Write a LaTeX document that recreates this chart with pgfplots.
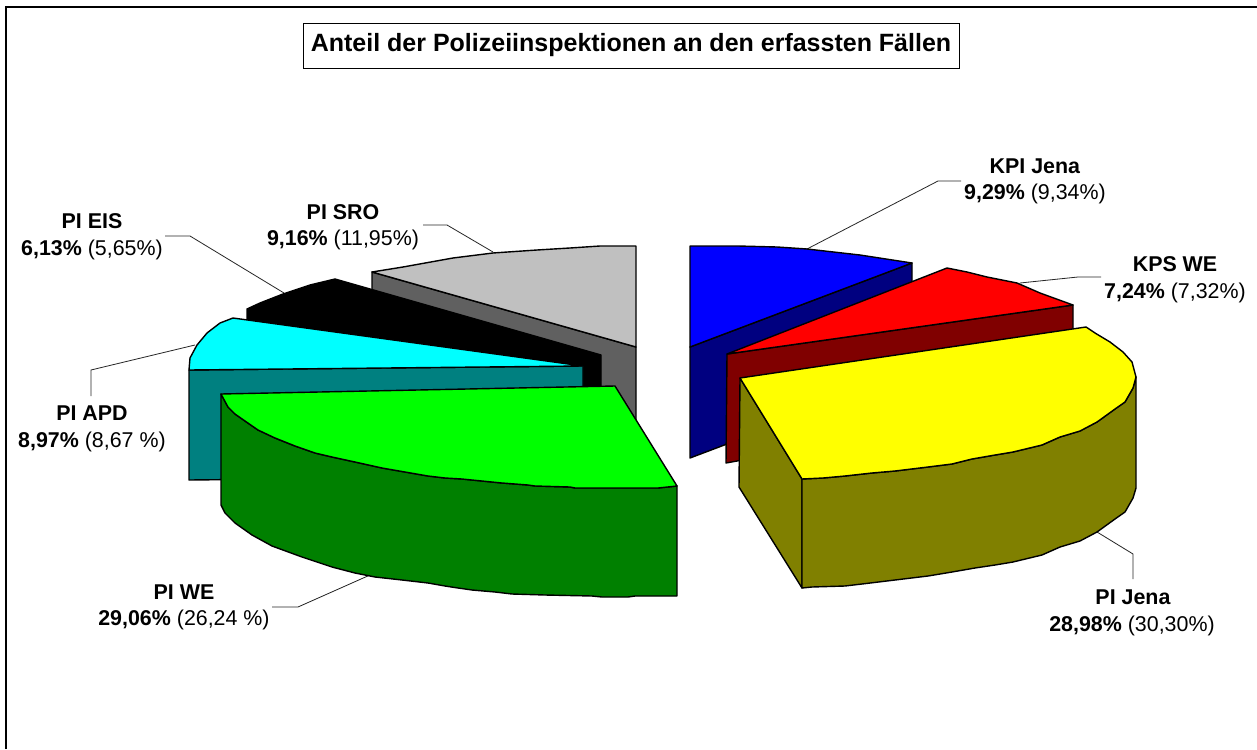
\documentclass[border=0pt]{standalone}
\usepackage{pgfplots}
\pgfplotsset{compat=1.18}
\usepackage{fontspec}
\setmainfont{Liberation Sans}
\definecolor{cSil}{HTML}{C0C0C0}\definecolor{cSilD}{HTML}{606060}
\definecolor{cTeal}{HTML}{008080}\definecolor{cCy}{HTML}{00FFFF}
\definecolor{cGr}{HTML}{00FF00}\definecolor{cGrD}{HTML}{008000}
\definecolor{cBl}{HTML}{0000FF}\definecolor{cBlD}{HTML}{000080}
\definecolor{cRe}{HTML}{FF0000}\definecolor{cReD}{HTML}{800000}
\definecolor{cYe}{HTML}{FFFF00}\definecolor{cOl}{HTML}{808000}
\tikzset{
  pie/.style={draw=black, line width=1.4pt, line join=round},
  lead/.style={draw=black!85, line width=0.8pt},
  lab/.style={inner sep=0pt, anchor=center, font=\fontsize{21.4}{24}\selectfont},
}
\begin{document}
\begin{tikzpicture}
\begin{axis}[
  scale only axis, width=1257pt, height=749pt,
  xmin=0, xmax=1257, ymin=0, ymax=749, y dir=reverse,
  axis lines=none, clip=true,
]
% page
\addplot[fill=white, draw=none] coordinates {(0,0) (1257,0) (1257,749) (0,749)} -- cycle;
% frame
\addplot[draw=black, line width=1.3pt] coordinates {(6,749) (6,7) (1257,7)};
% leader lines
\addplot[lead] coordinates {(807,249) (938,181) (961,181)};
\addplot[lead] coordinates {(1020,283) (1078,277) (1101,277)};
\addplot[lead] coordinates {(1097,532) (1133,554) (1133,579)};
\addplot[lead] coordinates {(370,575) (298,607) (272,607)};
\addplot[lead] coordinates {(195,345) (91,370) (91,396)};
\addplot[lead] coordinates {(284,293) (190,236) (165,236)};
\addplot[lead] coordinates {(493,252) (447,225) (423,225)};
% silver
\addplot[pie, fill=cSilD] coordinates {(372,272) (636,347) (636,457) (372,382)} -- cycle;
\addplot[pie, fill=cSil] coordinates {(636,246) (600,246) (570,248) (537,250) (493,253) (453,258) (403,267) (372,272) (636,347)} -- cycle;
% black
\addplot[pie, fill=black] coordinates {(335,279) (310,285) (283,294) (260,303) (247,309) (247,400) (601,400) (601,355)} -- cycle;
% teal + cyan
\addplot[pie, fill=cTeal] coordinates {(189,370) (583,366) (583,476) (189,480)} -- cycle;
\addplot[pie, fill=cCy] coordinates {(233,318) (220,323) (207,333) (197,345) (190,358) (189,370) (583,366)} -- cycle;
% green
\addplot[pie, fill=cGrD] coordinates {(677,486) (658,488) (575,488) (570,487) (535,486) (528,485) (502,483) (482,481) (462,479) (445,478) (428,476) (405,472) (382,468) (355,462) (332,457) (315,453) (295,446) (275,438) (258,430) (245,421) (235,414) (228,407) (221,394) (221,505) (225,513) (235,523) (252,535) (272,546) (302,557) (332,567) (355,573) (375,577) (402,580) (428,583) (445,586) (458,588) (472,590) (495,592) (512,594) (545,595) (592,596) (602,597) (628,597) (635,596) (677,596)} -- cycle;
\addplot[pie, fill=cGr] coordinates {(221,394) (615,386) (677,486) (658,488) (575,488) (570,487) (535,486) (528,485) (502,483) (482,481) (462,479) (445,478) (428,476) (405,472) (382,468) (355,462) (332,457) (315,453) (295,446) (275,438) (258,430) (245,421) (235,414) (228,407)} -- cycle;
% blue
\addplot[pie, fill=cBlD] coordinates {(690,347) (912,263) (912,374) (690,458)} -- cycle;
\addplot[pie, fill=cBl] coordinates {(690,246) (738,246) (777,247) (807,249) (860,255) (912,263) (690,347)} -- cycle;
% red
\addplot[pie, fill=cReD] coordinates {(727,354) (1073,305) (1073,400) (726,463)} -- cycle;
\addplot[pie, fill=cRe] coordinates {(947,268) (967,272) (987,277) (1017,283) (1040,293) (1073,305) (727,354)} -- cycle;
% yellow
\addplot[pie, fill=cOl] coordinates {(740,378) (802,479) (802,588) (739,487)} -- cycle;
\addplot[pie, fill=cOl] coordinates {(802,479) (823,478) (845,476) (872,473) (895,471) (928,467) (952,464) (972,459) (995,455) (1013,452) (1042,445) (1060,437) (1080,431) (1097,422) (1115,409) (1125,402) (1133,388) (1136,377) (1136,488) (1133,498) (1125,512) (1115,519) (1097,532) (1080,541) (1060,547) (1042,555) (1013,562) (995,565) (975,568) (952,572) (928,576) (895,580) (862,584) (845,586) (812,587) (802,588)} -- cycle;
\addplot[pie, fill=cYe] coordinates {(740,378) (1086,327) (1095,333) (1110,342) (1123,352) (1132,362) (1136,377) (1133,388) (1125,402) (1115,409) (1097,422) (1080,431) (1060,437) (1042,445) (1013,452) (995,455) (972,459) (952,464) (928,467) (895,471) (872,473) (845,476) (823,478) (802,479)} -- cycle;
% title
\node[draw=black, line width=0.9pt, fill=white, minimum width=656pt, minimum height=45pt, inner sep=0pt, anchor=center, font=\fontsize{25}{28}\selectfont\bfseries] at (axis cs:631,45.5) {Anteil der Polizeiinspektionen an den erfassten Fällen};
% labels
\node[lab] at (axis cs:1035,166) {\textbf{KPI Jena}};
\node[lab] at (axis cs:1035,194) {\textbf{9,29\%} (9,34\%)};
\node[lab] at (axis cs:1175,264) {\textbf{KPS WE}};
\node[lab] at (axis cs:1175,293) {\textbf{7,24\%} (7,32\%)};
\node[lab] at (axis cs:1133,597) {\textbf{PI Jena}};
\node[lab] at (axis cs:1132,626) {\textbf{28,98\%} (30,30\%)};
\node[lab] at (axis cs:184,592) {\textbf{PI WE}};
\node[lab] at (axis cs:184,620) {\textbf{29,06\%} (26,24 \%)};
\node[lab] at (axis cs:92,413) {\textbf{PI APD}};
\node[lab] at (axis cs:92,442) {\textbf{8,97\%} (8,67 \%)};
\node[lab] at (axis cs:92,221) {\textbf{PI EIS}};
\node[lab] at (axis cs:92,250) {\textbf{6,13\%} (5,65\%)};
\node[lab] at (axis cs:343,212) {\textbf{PI SRO}};
\node[lab] at (axis cs:343,240) {\textbf{9,16\%} (11,95\%)};
\end{axis}
\end{tikzpicture}
\end{document}
